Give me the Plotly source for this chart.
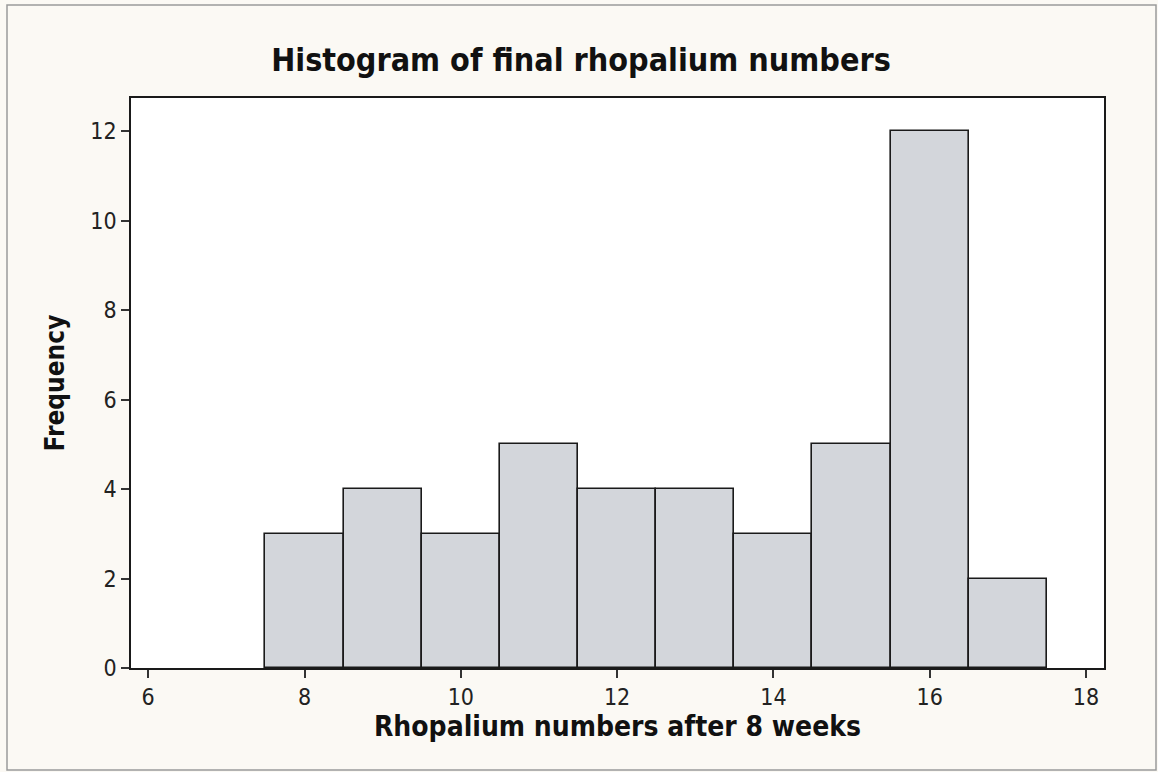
import plotly.graph_objects as go

bin_centers = [8, 9, 10, 11, 12, 13, 14, 15, 16, 17]
frequencies = [3, 4, 3, 5, 4, 4, 3, 5, 12, 2]
x_ticks = [6, 8, 10, 12, 14, 16, 18]
y_ticks = [0, 2, 4, 6, 8, 10, 12]

W, H = 1158, 772
L, R, T, B = 131, 1104, 98, 668

fig = go.Figure(go.Bar(
    x=bin_centers, y=frequencies, width=1,
    marker=dict(color="#d3d6db", line=dict(color="#1a1a1a", width=1.6)),
))

font = "DejaVu Sans Condensed, DejaVu Sans, sans-serif"
fig.update_layout(
    width=W, height=H,
    margin=dict(l=L, r=W - R, t=T, b=H - B, pad=0),
    paper_bgcolor="#fbf9f4", plot_bgcolor="#ffffff",
    showlegend=False,
    bargap=0,
    title=dict(text="<b>Histogram of final rhopalium numbers</b>", x=(581 - L) / (R - L),
               xref="paper", xanchor="center",
               y=1 - 60 / H, yanchor="middle",
               font=dict(family=font, size=32, color="#111111")),
    font=dict(family=font, color="#222222"),
)
fig.update_xaxes(
    range=[5.78, 18.23], tickvals=x_ticks, ticks="outside", ticklen=8, tickwidth=1.5,
    tickcolor="#333333", showline=True, linecolor="#1a1a1a", linewidth=1.6, mirror=True,
    showgrid=False, zeroline=False, tickfont=dict(size=23, family=font),
    title=dict(text="<b>Rhopalium numbers after 8 weeks</b>", font=dict(size=28, family=font,
               color="#111111"), standoff=7),
)
fig.update_yaxes(
    range=[0, 12.74], tickvals=y_ticks, ticks="outside", ticklen=8, tickwidth=1.5,
    tickcolor="#333333", showline=True, linecolor="#1a1a1a", linewidth=1.6, mirror=True,
    showgrid=False, zeroline=False, tickfont=dict(size=23, family=font),
    title=dict(text="<b>Frequency</b>", font=dict(size=26, family=font, color="#111111"),
               standoff=18),
)
fig.add_shape(type="rect", xref="paper", yref="paper",
              x0=(7 - L) / (R - L), x1=(1156 - L) / (R - L),
              y0=(B - 770) / (B - T), y1=(B - 5) / (B - T),
              line=dict(color="#9a9a9a", width=1.5), layer="below")
fig.write_html("out.html", config={"displayModeBar": False},
               post_script="document.body.style.margin='0px';document.body.style.overflow='hidden';")
